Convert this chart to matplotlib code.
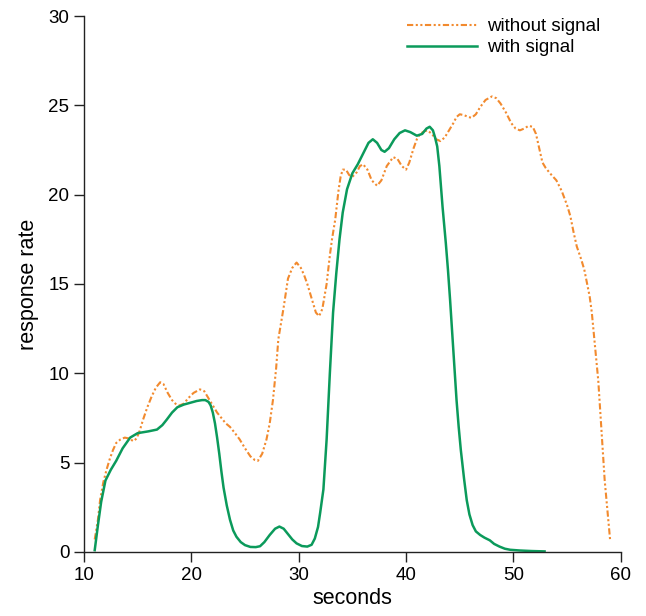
import matplotlib.pyplot as plt

plt.rcParams['font.family'] = ['Liberation Sans', 'DejaVu Sans']

# without signal (orange dash-dot-dot)
t_without = [11.0, 11.3, 11.5, 11.8, 12.1, 12.4, 12.7, 13.0, 13.4, 13.8, 14.2, 14.6, 14.9, 15.2, 15.5,
             15.9, 16.3, 16.7, 17.1, 17.4, 17.8, 18.2, 18.6, 18.9, 19.3, 19.7, 20.2, 20.8, 21.2, 21.6,
             22.0, 22.4, 22.8, 23.2, 23.6, 24.0, 24.5, 25.0, 25.5, 25.9, 26.2, 26.6, 27.0, 27.3, 27.6,
             27.9, 28.1, 28.4, 28.6, 29.0, 29.4, 29.8, 30.2, 30.5, 30.8, 31.2, 31.6, 31.9, 32.2, 32.6,
             32.9, 33.1, 33.4, 33.7, 33.9, 34.1, 34.4, 34.7, 35.0, 35.4, 35.7, 36.0, 36.4, 36.8, 37.3,
             37.7, 38.2, 38.8, 39.2, 39.6, 40.0, 40.3, 40.7, 41.0, 41.3, 41.7, 42.0, 42.4, 42.8, 43.2,
             43.6, 44.0, 44.4, 44.7, 45.0, 45.4, 45.8, 46.1, 46.5, 46.9, 47.4, 48.0, 48.4, 48.8, 49.3,
             49.8, 50.2, 50.6, 51.0, 51.4, 51.8, 52.1, 52.4, 52.7, 53.0, 53.4, 54.0, 54.5, 55.0, 55.3,
             55.6, 55.9, 56.3, 56.6, 56.8, 57.1, 57.3, 57.6, 57.9, 58.2, 58.5, 58.8, 59.0]
r_without = [0.7, 1.8, 2.9, 3.9, 4.6, 5.2, 5.7, 6.1, 6.3, 6.4, 6.35, 6.2, 6.35, 6.8, 7.4,
             8.1, 8.7, 9.2, 9.5, 9.4, 8.9, 8.5, 8.25, 8.2, 8.3, 8.6, 8.9, 9.1, 9.0, 8.6,
             8.2, 7.8, 7.5, 7.2, 7.0, 6.7, 6.3, 5.8, 5.35, 5.15, 5.1, 5.5, 6.3, 7.2, 8.5,
             10.3, 11.9, 13.0, 13.7, 15.3, 15.9, 16.2, 15.9, 15.5, 15.0, 14.2, 13.4, 13.2, 13.6, 15.0,
             16.6, 17.5, 18.6, 20.2, 21.0, 21.4, 21.4, 21.1, 21.0, 21.25, 21.6, 21.7, 21.4, 20.8, 20.5,
             20.8, 21.6, 22.1, 22.0, 21.6, 21.4, 21.8, 22.6, 23.1, 23.4, 23.55, 23.6, 23.4, 23.1, 23.0,
             23.2, 23.6, 24.0, 24.35, 24.5, 24.45, 24.35, 24.3, 24.5, 24.9, 25.3, 25.5, 25.4, 25.1, 24.6,
             24.0, 23.7, 23.6, 23.7, 23.85, 23.8, 23.4, 22.6, 21.8, 21.5, 21.2, 20.8, 20.2, 19.4, 18.8,
             17.9, 17.1, 16.4, 15.8, 15.2, 14.3, 13.4, 11.5, 9.6, 6.8, 4.0, 2.0, 0.7]

# with signal (green solid)
t_with = [11.0, 11.3, 11.6, 12.0, 12.5, 13.0, 13.6, 14.3, 15.0, 16.0, 16.8, 17.3, 17.7, 18.2, 18.7,
          19.3, 19.9, 20.5, 21.0, 21.3, 21.6, 21.8, 22.0, 22.2, 22.4, 22.6, 22.8, 23.0, 23.3, 23.6,
          23.9, 24.2, 24.6, 25.0, 25.5, 26.0, 26.4, 26.8, 27.3, 27.8, 28.2, 28.6, 29.0, 29.4, 29.8,
          30.3, 30.8, 31.2, 31.5, 31.8, 32.0, 32.3, 32.6, 32.9, 33.2, 33.5, 33.8, 34.1, 34.5, 35.0,
          35.5, 36.0, 36.5, 36.9, 37.3, 37.7, 38.0, 38.4, 38.9, 39.4, 39.9, 40.4, 41.0, 41.5, 41.9,
          42.2, 42.5, 42.7, 42.9, 43.1, 43.4, 43.7, 43.9, 44.1, 44.4, 44.7, 44.9, 45.1, 45.4, 45.65,
          45.9, 46.2, 46.5, 46.9, 47.3, 47.8, 48.2, 48.7, 49.2, 49.7, 50.6, 51.7, 52.9]
r_with = [0.1, 1.5, 2.8, 4.0, 4.6, 5.1, 5.8, 6.4, 6.65, 6.75, 6.85, 7.1, 7.4, 7.8, 8.1,
          8.25, 8.35, 8.45, 8.5, 8.5, 8.4, 8.2, 7.8, 7.2, 6.4, 5.5, 4.5, 3.6, 2.6, 1.8,
          1.2, 0.85, 0.55, 0.38, 0.28, 0.27, 0.32, 0.55, 0.95, 1.3, 1.42, 1.3, 1.0, 0.7, 0.48,
          0.33, 0.3, 0.4, 0.75, 1.4, 2.2, 3.5, 6.3, 10.0, 13.4, 15.6, 17.5, 19.0, 20.3, 21.2,
          21.7, 22.3, 22.9, 23.1, 22.9, 22.5, 22.4, 22.6, 23.1, 23.45, 23.6, 23.5, 23.3, 23.4, 23.7,
          23.8, 23.6, 23.2, 22.7, 21.6, 19.3, 17.3, 15.8, 14.1, 11.3, 8.5, 7.0, 5.7, 4.1, 2.9,
          2.1, 1.5, 1.15, 0.95, 0.8, 0.65, 0.45, 0.3, 0.18, 0.12, 0.08, 0.05, 0.03]

xticks = [10, 20, 30, 40, 50, 60]
yticks = [0, 5, 10, 15, 20, 25, 30]

fig = plt.figure(figsize=(6.46, 6.16), dpi=100)
ax = fig.add_axes([0.130, 0.104, 0.831, 0.870])

ax.plot(t_without, r_without, color='#f28a2e', lw=1.5,
        linestyle=(0, (3, 1.2, 1, 1.2, 1, 1.2)), label='without signal')
ax.plot(t_with, r_with, color='#0b9a5b', lw=1.8, label='with signal')

ax.set_xlim(10, 60)
ax.set_ylim(0, 30)
ax.set_xticks(xticks)
ax.set_yticks(yticks)
ax.spines['top'].set_visible(False)
ax.spines['right'].set_visible(False)
for s in ['left', 'bottom']:
    ax.spines[s].set_linewidth(1.0)
    ax.spines[s].set_color('#222222')
ax.tick_params(direction='out', length=7, width=1.0, labelsize=13.5, colors='#222222',
               labelcolor='black')
ax.set_xlabel('seconds', fontsize=15.5, labelpad=3)
ax.set_ylabel('response rate', fontsize=15.5, labelpad=7)

ax.legend(loc='upper right', frameon=False, fontsize=13.5, handlelength=3.7,
          handletextpad=0.55, labelspacing=0.2, borderaxespad=0.0,
          bbox_to_anchor=(0.976, 1.01))

fig.savefig('out.png', dpi=100)
